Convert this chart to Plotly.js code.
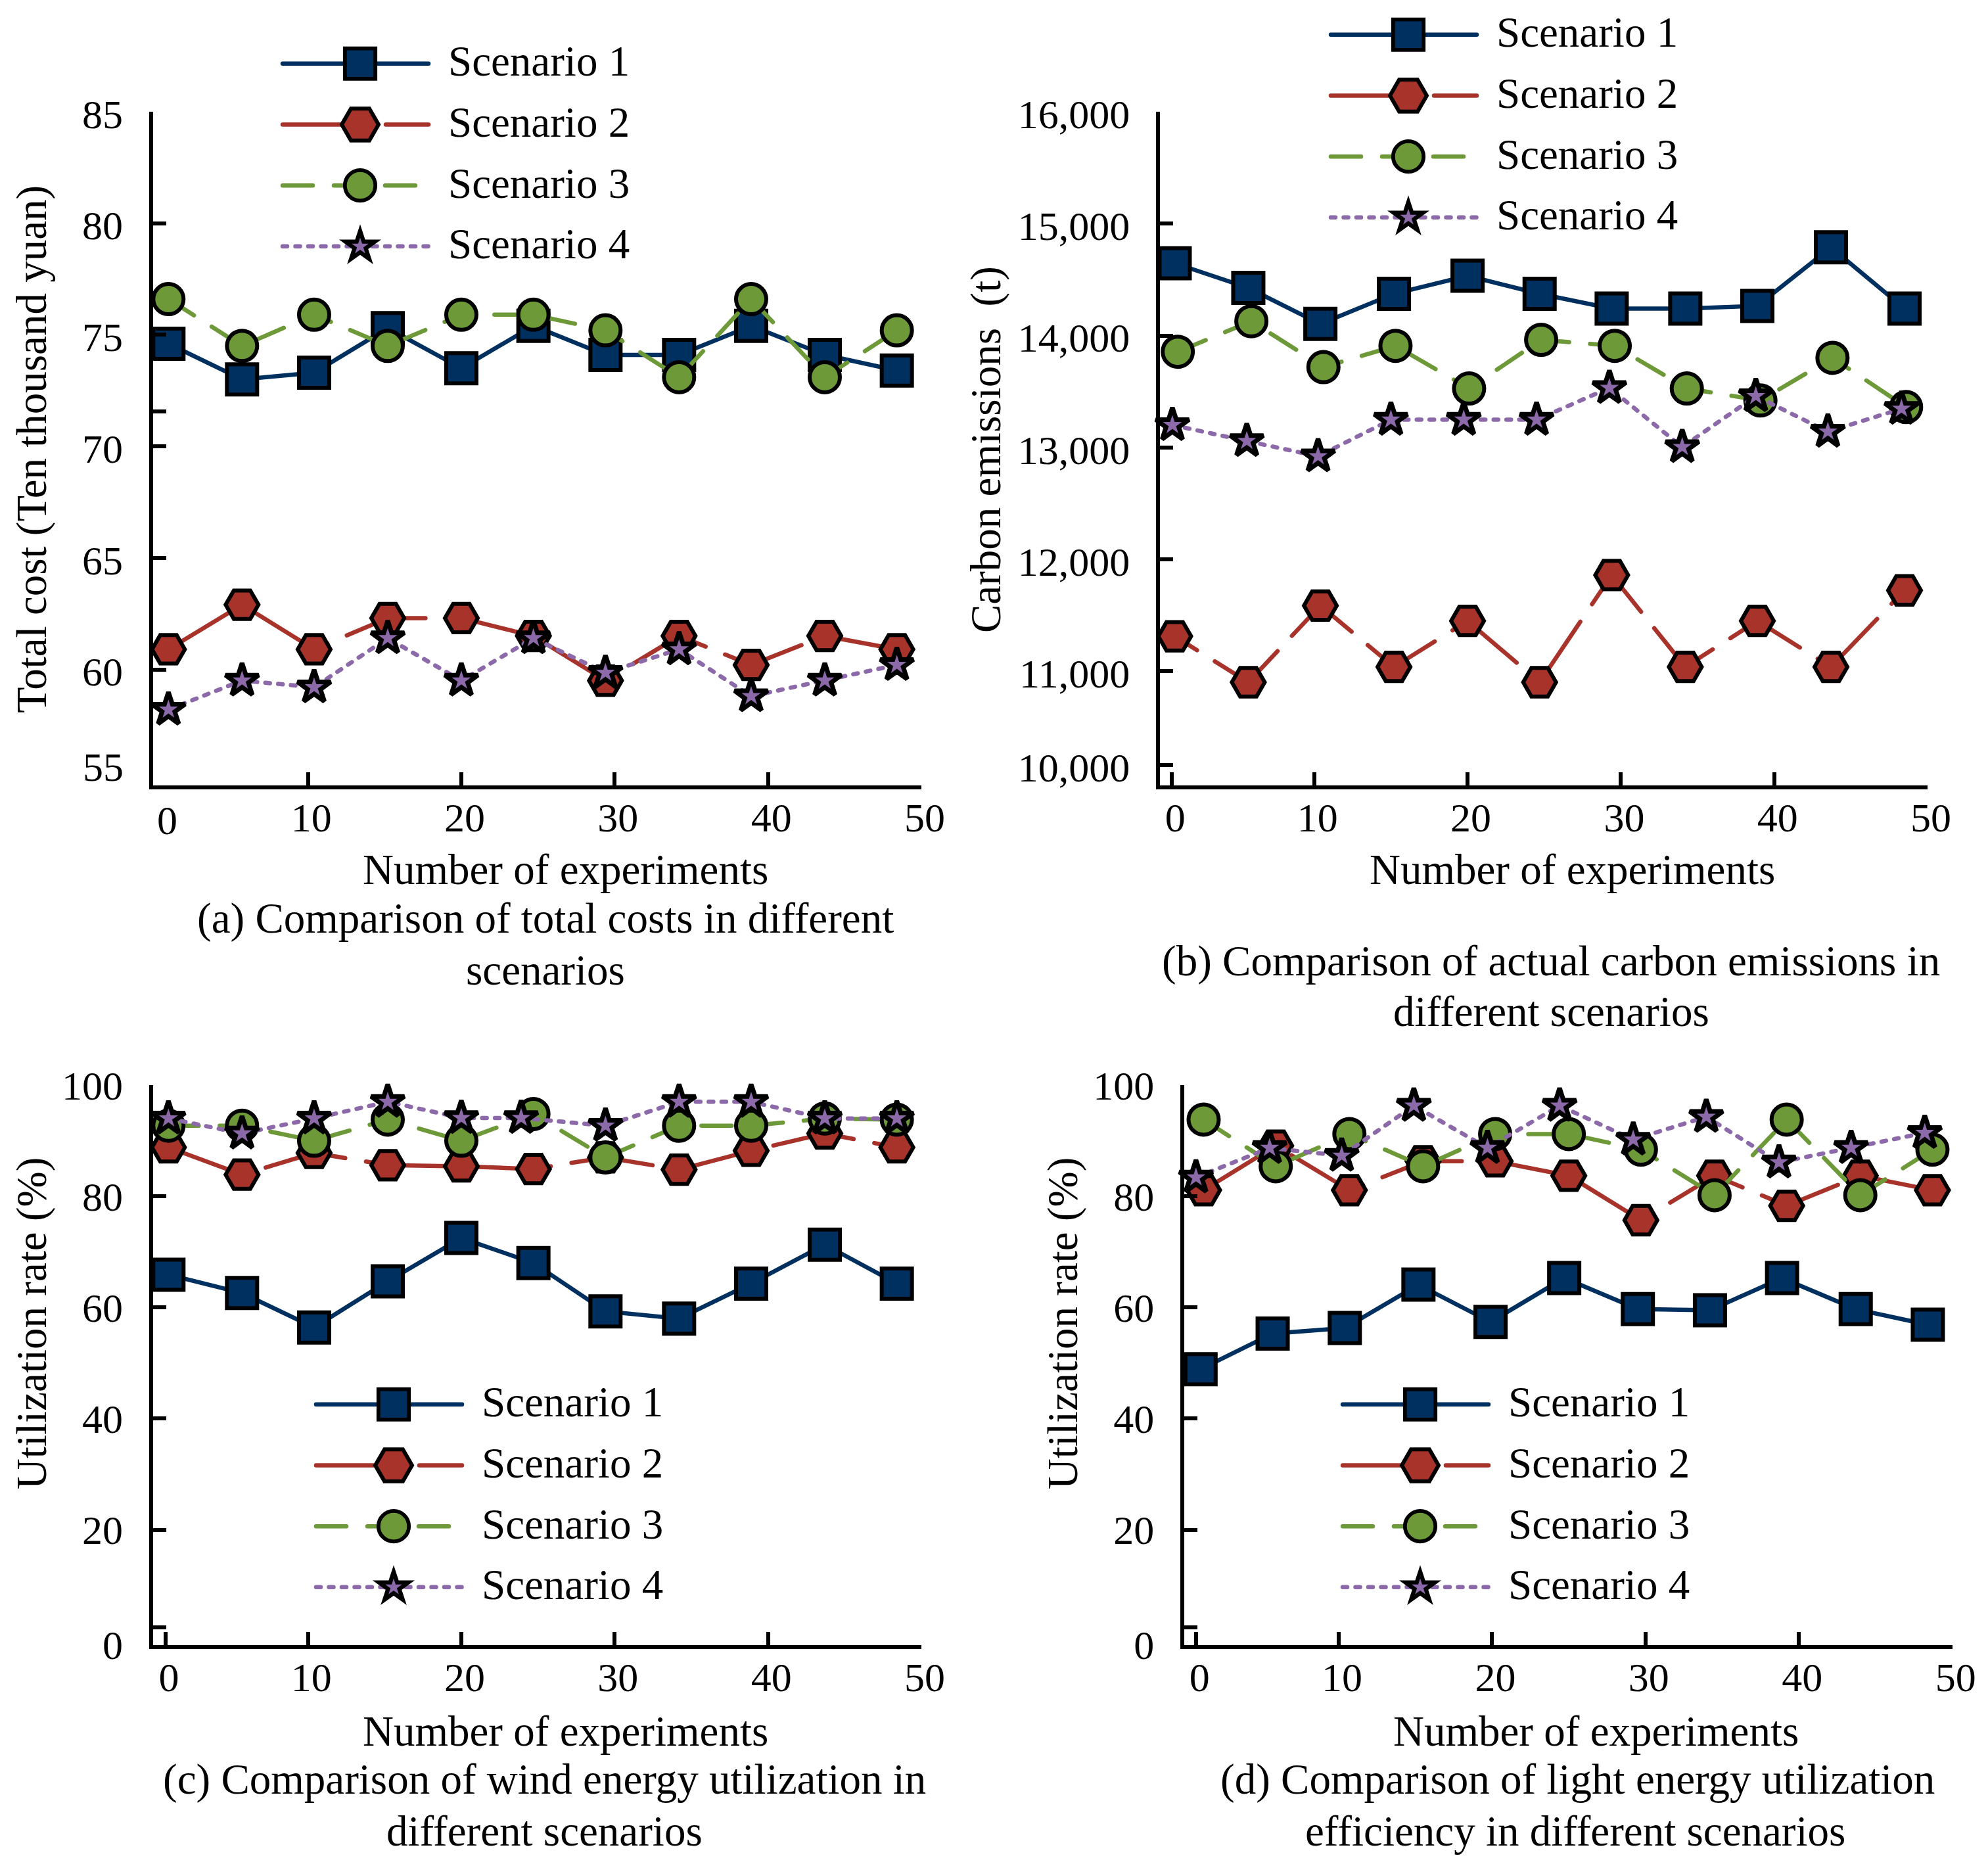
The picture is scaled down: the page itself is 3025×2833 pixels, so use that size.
<!DOCTYPE html>
<html>
<head>
<meta charset="utf-8">
<script src="https://cdn.plot.ly/plotly-3.0.1.min.js"></script>
<style>
html, body { margin: 0; padding: 0; background: #fff; }
#chart { width: 3025px; height: 2833px; }
.js-line, .legendlines path { stroke-linecap: round; }
.legendlines path { stroke-width: 6.5px !important; }
.scrollbox { clip-path: none !important; }
/* plotly caps legend markers at 16px, the figure has them much bigger */
.legendpoints path.scatterpts { transform: translate(123px, 0) scale(2.9); stroke-width: 2px !important; }
.groups:nth-child(2) .legendpoints path.scatterpts { transform: translate(123px, 0) scale(3.5); stroke-width: 1.7px !important; }
.groups:nth-child(4) .legendpoints path.scatterpts { transform: translate(123px, 0) scale(2.1); stroke-width: 3px !important; }
.traces text { transform: translate(25px, -7px); }
/* dash of scenario 2 in panel b starts elsewhere in its pattern */
.x2y2 .trace:nth-child(2) .js-line { stroke-dashoffset: 85; }
</style>
</head>
<body>
<div id="chart"></div>
<script>
const FONT = 'Liberation Serif';
const W = 3025;
const H = 2833;

const seriesNames = ['Scenario 1', 'Scenario 2', 'Scenario 3', 'Scenario 4'];
const seriesColors = ['#00305f', '#a8332b', '#6e9938', '#8c69a8'];
const seriesSymbols = ['square', 'hexagon2', 'circle', 'star'];
const seriesSizes = [46, 50, 46, 38];
const seriesDash = ['solid', '125px,32px', '46px,32px', '7px,12.5px'];

// (a) total cost
const xA = [0.9, 5.7, 10.4, 15.2, 20, 24.7, 29.4, 34.2, 38.9, 43.7, 48.4];
const costS1 = [74.6, 73.0, 73.3, 75.3, 73.5, 75.4, 74.1, 74.1, 75.4, 74.1, 73.4];
const costS2 = [60.9, 62.9, 60.9, 62.3, 62.3, 61.5, 59.5, 61.5, 60.2, 61.5, 60.9];
const costS3 = [76.6, 74.5, 75.9, 74.5, 75.9, 75.9, 75.2, 73.1, 76.6, 73.1, 75.2];
const costS4 = [58.2, 59.5, 59.2, 61.4, 59.5, 61.4, 59.85, 60.9, 58.8, 59.5, 60.2];
const costTicks = [85, 80, 75, 71.56, 70, 65, 60];
const costTickText = ['85', '80', '75', '', '70', '65', '60'];

// (b) carbon emissions
const xB = [0.9, 5.7, 10.4, 15.2, 20, 24.7, 29.4, 34.2, 38.9, 43.7, 48.5];
const xBGreen = [1.1, 5.9, 10.6, 15.3, 20.1, 24.8, 29.6, 34.3, 39.1, 43.8, 48.6];
const xBPurple = [0.75, 5.6, 10.25, 15, 19.75, 24.5, 29.25, 34, 38.8, 43.5, 48.3];
const carbonS1 = [14646, 14426, 14104, 14373, 14534, 14373, 14241, 14241, 14265, 14788, 14241];
const carbonS2 = [11313, 10902, 11587, 11039, 11450, 10902, 11860, 11039, 11450, 11039, 11723];
const carbonS3 = [13855, 14128, 13718, 13908, 13527, 13962, 13908, 13527, 13420, 13801, 13361];
const carbonS4 = [13200, 13058, 12921, 13248, 13248, 13248, 13532, 13004, 13459, 13141, 13346];
const carbonTicks = [16000, 15000, 14000, 13000, 12000, 11000, 10160];
const carbonTickText = ['16,000', '15,000', '14,000', '13,000', '12,000', '11,000', '10,000'];

// (c) wind energy
const xC = [0.9, 5.7, 10.4, 15.2, 20, 24.7, 29.4, 34.2, 38.9, 43.7, 48.4];
const xCPurple = [0.9, 5.7, 10.4, 15.2, 20, 23.9, 29.4, 34.2, 38.9, 43.7, 48.4];
const windS1 = [65.9, 62.6, 56.4, 64.7, 72.5, 68.0, 59.3, 58.0, 64.3, 71.3, 64.3];
const windS2 = [88.8, 83.9, 87.8, 85.6, 85.4, 84.9, 87.0, 84.8, 88.2, 91.3, 88.8];
const windS3 = [92.7, 92.7, 90, 93.8, 90, 94.8, 87, 92.7, 92.7, 94, 93.8];
const windS4 = [94, 91.3, 94, 97, 94.1, 94.1, 92.7, 97, 97, 94, 94];

// (d) light energy
const xD = [1.0, 5.7, 10.4, 15.2, 19.9, 24.7, 29.5, 34.2, 38.9, 43.7, 48.4];
const xDShift = [1.2, 5.9, 10.7, 15.5, 20.2, 25, 29.7, 34.5, 39.2, 44, 48.7];
const xDPurple = [0.7, 5.5, 10.2, 14.9, 19.7, 24.4, 29.2, 33.96, 38.7, 43.4, 48.2];
const lightS1 = [48.9, 55.3, 56.3, 64.1, 57.4, 65.3, 59.7, 59.5, 65.3, 59.7, 56.9];
const lightS2 = [81.1, 89.1, 81.1, 86.3, 86.3, 83.7, 75.7, 83.7, 78.3, 83.7, 81.1];
const lightS3 = [93.8, 85.4, 91.2, 85.4, 91.2, 91.2, 88.4, 80.2, 93.8, 80.2, 88.4];
const lightS4 = [83.4, 88.7, 87.3, 96.3, 88.7, 96.3, 90.2, 94.3, 86.1, 88.7, 91.4];

const rateTicks = [100, 80, 60, 40, 20, 2.5, -0.7];
const rateTickText = ['100', '80', '60', '40', '20', '', '0'];

const expTicks = [0.72, 10, 20, 30, 40, 50];
const expTickText = ['0', '10', '20', '30', '40', '50'];
const expTicksNoZero = [10, 20, 30, 40, 50];
const expTickTextNoZero = ['10', '20', '30', '40', '50'];

function px(x) { return x / W; }
function py(y) { return 1 - y / H; }

const panels = [
    { left: 232.5, right: 1402, top: 170, bottom: 1195, xr: [-0.12, 50], yr: [54.8, 85], shift: 3,
      xt: expTicksNoZero, xl: expTickTextNoZero,
      ticks: costTicks, text: costTickText, xs: [xA, xA, xA, xA], ys: [costS1, costS2, costS3, costS4],
      legendX: 430, legendY: 48 },
    { left: 1764.6, right: 2933, top: 170, bottom: 1195, xr: [-0.08, 50], yr: [9980, 16000], shift: 3,
      xt: expTicks, xl: expTickText,
      ticks: carbonTicks, text: carbonTickText, xs: [xB, xB, xBGreen, xBPurple], ys: [carbonS1, carbonS2, carbonS3, carbonS4],
      legendX: 2025, legendY: 4 },
    { left: 232.5, right: 1402, top: 1651, bottom: 2503, xr: [-0.12, 50], yr: [-0.74, 100], shift: 0,
      xt: expTicks, xl: expTickText,
      ticks: rateTicks, text: rateTickText, xs: [xC, xC, xC, xCPurple], ys: [windS1, windS2, windS3, windS4],
      legendX: 481, legendY: 2088 },
    { left: 1801.6, right: 2970.8, top: 1651, bottom: 2503, xr: [-0.08, 50], yr: [-0.74, 100], shift: 0,
      xt: expTicks, xl: expTickText,
      ticks: rateTicks, text: rateTickText, xs: [xD, xDShift, xDShift, xDPurple], ys: [lightS1, lightS2, lightS3, lightS4],
      legendX: 2043, legendY: 2088 }
];

// every text that does not sit centred on its axis
const labels = [
    ['Total cost (Ten thousand yuan)', 48, 684, -90],
    ['Carbon emissions\u00a0 (t)', 1500, 684, -90],
    ['Utilization rate (%)', 48, 2014, -90],
    ['Utilization rate (%)', 1617, 2014, -90],
    ['Number of experiments', 860, 1323, 0],
    ['Number of experiments', 2392, 1323, 0],
    ['Number of experiments', 860, 2634, 0],
    ['Number of experiments', 2428, 2634, 0],
    ['(a) Comparison of total costs in different', 830, 1397, 0],
    ['scenarios', 830, 1476, 0],
    ['(b) Comparison of actual carbon emissions in', 2360, 1462, 0],
    ['different scenarios', 2360, 1539, 0],
    ['(c) Comparison of wind energy utilization in', 829, 2707, 0],
    ['different scenarios', 829, 2786, 0],
    ['(d) Comparison of light energy utilization', 2400, 2707, 0],
    ['efficiency in different scenarios', 2397, 2786, 0]
];

// panel a has these two labels but no tick marks for them
const looseTickLabels = [
    ['55', 157, 1167],
    ['0', 254, 1248]
];

let data = [];
let layout = {
    width: W,
    height: H,
    margin: { l: 0, r: 0, t: 0, b: 0 },
    paper_bgcolor: '#fff',
    plot_bgcolor: 'rgba(0,0,0,0)',
    font: { family: FONT, size: 65, color: '#000' },
    showlegend: true,
    annotations: labels.map(l => ({
        text: l[0], x: px(l[1]), y: py(l[2]), xref: 'paper', yref: 'paper',
        xanchor: 'center', yanchor: 'middle', textangle: l[3], showarrow: false,
        font: { family: FONT, size: 65, color: '#000' }
    })).concat(looseTickLabels.map(l => ({
        text: l[0], x: px(l[1]), y: py(l[2]), xref: 'paper', yref: 'paper',
        xanchor: 'center', yanchor: 'middle', showarrow: false,
        font: { family: FONT, size: 62, color: '#000' }
    })))
};

panels.forEach((p, i) => {
    const n = i == 0 ? '' : String(i + 1);
    const legendName = 'legend' + n;
    layout['xaxis' + n] = {
        domain: [px(p.left), px(p.right)], range: p.xr, anchor: 'y' + n,
        showgrid: false, zeroline: false, showline: true, linewidth: 6, linecolor: '#000',
        ticks: 'inside', ticklen: 20, tickwidth: 6, tickcolor: '#000',
        tickmode: 'array', tickvals: p.xt, ticktext: p.xl,
        ticklabelstandoff: -10, ticklabelshift: 5,
        tickfont: { family: FONT, size: 62, color: '#000' }
    };
    layout['yaxis' + n] = {
        domain: [py(p.bottom), py(p.top)], range: p.yr, anchor: 'x' + n,
        showgrid: false, zeroline: false, showline: true, linewidth: 6, linecolor: '#000',
        ticks: 'inside', ticklen: 20, tickwidth: 6, tickcolor: '#000',
        tickmode: 'array', tickvals: p.ticks, ticktext: p.text,
        ticklabelstandoff: 27, ticklabelshift: p.shift,
        tickfont: { family: FONT, size: 62, color: '#000' }
    };
    layout[legendName] = {
        x: px(p.legendX - 5), y: py(p.legendY), xanchor: 'left', yanchor: 'top',
        bgcolor: 'rgba(0,0,0,0)', borderwidth: 0, itemwidth: 222,
        traceorder: 'grouped', tracegroupgap: 5.2,
        font: { family: FONT, size: 65, color: '#000' }
    };
    seriesNames.forEach((name, s) => {
        data.push({
            type: 'scatter', mode: 'lines+markers', name: name,
            x: p.xs[s], y: p.ys[s],
            xaxis: 'x' + n, yaxis: 'y' + n,
            legend: legendName, legendgroup: 'p' + i + 's' + s,
            cliponaxis: false,
            line: { color: seriesColors[s], width: 6.5, dash: seriesDash[s] },
            marker: {
                symbol: seriesSymbols[s], size: seriesSizes[s], color: seriesColors[s],
                line: { color: '#000', width: s == 3 ? 7 : 6 }
            }
        });
    });
});

Plotly.newPlot('chart', data, layout, { displayModeBar: false, responsive: false });
</script>
</body>
</html>
